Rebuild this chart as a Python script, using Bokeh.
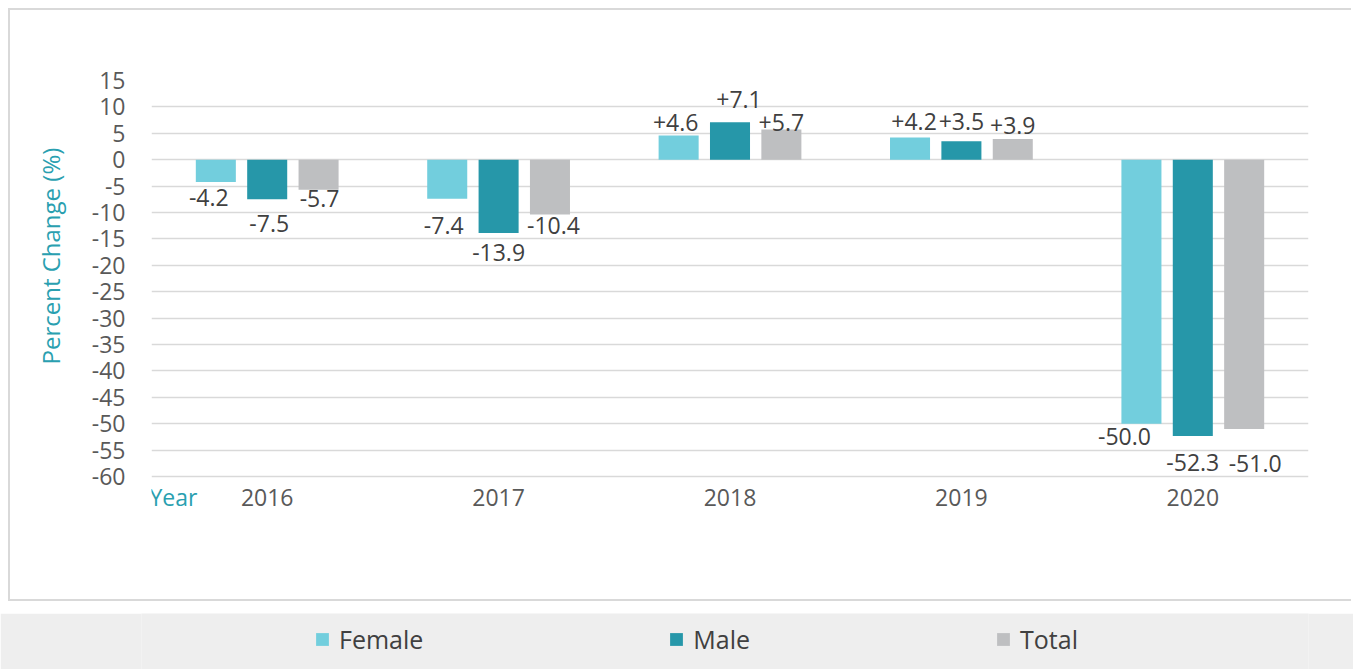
from bokeh.plotting import figure
from bokeh.models import (ColumnDataSource, FactorRange, FixedTicker, Label, Legend,
                          LegendItem, Range1d, Title, CustomJSTickFormatter)
from bokeh.transform import dodge
from bokeh.layouts import column
from bokeh.core.properties import value
from bokeh.embed import file_html
from bokeh.resources import INLINE

# ---- data ----
years = ["2016", "2017", "2018", "2019", "2020"]
female = [-4.2, -7.4, 4.6, 4.2, -50.0]
male = [-7.5, -13.9, 7.1, 3.5, -52.3]
total = [-5.7, -10.4, 5.7, 3.9, -51.0]
series_names = ["Female", "Male", "Total"]
y_ticks = list(range(-60, 16, 5))

# ---- styling ----
colors = ["#72CEDD", "#2697A9", "#BEBFC1"]
offsets = [-0.222, 0.0, 0.222]
# per-label pixel nudges (dx, dy) reproducing the original label placement
nudges = [
    [(-7, 16), (-3.5, 26.5), (-3, -13), (4, -16.5), (-17, 13)],
    [(2, 24.5), (0, 19), (9, -23), (0, -20), (0, 27)],
    [(1, 9), (3.5, 10.5), (0, -7.5), (0, -14), (11, 34)],
]
FONT = "Open Sans"
TEAL = "#2A9FB0"

p = figure(x_range=FactorRange(factors=years), y_range=Range1d(-67, 15),
           width=1343, height=593,
           output_backend="svg", toolbar_location=None,
           min_border_left=141, min_border_right=45, min_border_top=70, min_border_bottom=90,
           background_fill_color="white", border_fill_color="white",
           styles={"border-left": "2px solid #d9d9d9", "border-top": "2px solid #d9d9d9",
                   "border-bottom": "2px solid #d9d9d9", "margin-left": "8px",
                   "margin-top": "8px"})
p.outline_line_color = None

for name, vals, col, off, nd in zip(series_names, [female, male, total], colors, offsets, nudges):
    src = ColumnDataSource(dict(
        year=years, val=vals,
        lab=[f"{v:+.1f}" for v in vals],
        dx=[d[0] for d in nd],
        dy=[d[1] for d in nd],
    ))
    p.vbar(x=dodge("year", off, range=p.x_range), top="val", bottom=0, width=0.173,
           source=src, fill_color=col, line_color=None)
    p.text(x=dodge("year", off, range=p.x_range), y="val", text="lab", source=src,
           x_offset="dx", y_offset="dy", text_align="center", text_baseline="middle",
           text_font=value(FONT), text_font_size="23px", text_color="#404040")

# axes
p.yaxis.ticker = FixedTicker(ticks=y_ticks)
p.yaxis.formatter = CustomJSTickFormatter(code="return tick.toString();")
p.xaxis.fixed_location = -60
for ax in (p.xaxis, p.yaxis):
    ax.axis_line_color = None
    ax.major_tick_line_color = None
    ax.minor_tick_line_color = None
    ax.major_tick_out = 0
    ax.major_tick_in = 0
    ax.major_label_text_font = FONT
    ax.major_label_text_font_size = "23px"
    ax.major_label_text_color = "#595959"
p.yaxis.major_label_standoff = 26
p.xaxis.major_label_standoff = 12

p.add_layout(Title(text="Percent Change (%)", align="left", offset=149, standoff=43,
                   text_font=FONT, text_font_size="24px", text_font_style="normal",
                   text_color=TEAL), "left")

p.xgrid.grid_line_color = None
p.ygrid.grid_line_color = "#d9d9d9"
p.ygrid.grid_line_width = 1.5

p.add_layout(Label(x=0.095, y=-63.8, text="Year",
                   text_align="center", text_baseline="middle", text_font=FONT,
                   text_font_size="23px", text_color=TEAL))

# ---- legend band ----
leg = figure(width=1353, height=56, output_backend="svg", toolbar_location=None,
             x_range=Range1d(0, 1), y_range=Range1d(0, 1),
             x_axis_location=None, y_axis_location=None,
             min_border_left=0, min_border_right=0, min_border_top=0, min_border_bottom=0,
             background_fill_color="#EEEEEE", border_fill_color="#EEEEEE")
leg.outline_line_color = None
leg.grid.visible = False
items = []
for name, col in zip(series_names, colors):
    r = leg.quad(left=[5], right=[6], bottom=[5], top=[6], fill_color=col, line_color=None)
    items.append(LegendItem(label=name, renderers=[r]))
legend = Legend(items=items, orientation="horizontal", location=(173, 13),
                spacing=245, padding=0, margin=0, glyph_width=16, glyph_height=16,
                label_standoff=9, label_text_font=FONT, label_text_font_size="25px",
                label_text_color="#404040", background_fill_alpha=0, border_line_color=None)
leg.add_layout(legend)

layout = column(p, leg, spacing=12)
open("out.html", "w").write(file_html(layout, INLINE))
